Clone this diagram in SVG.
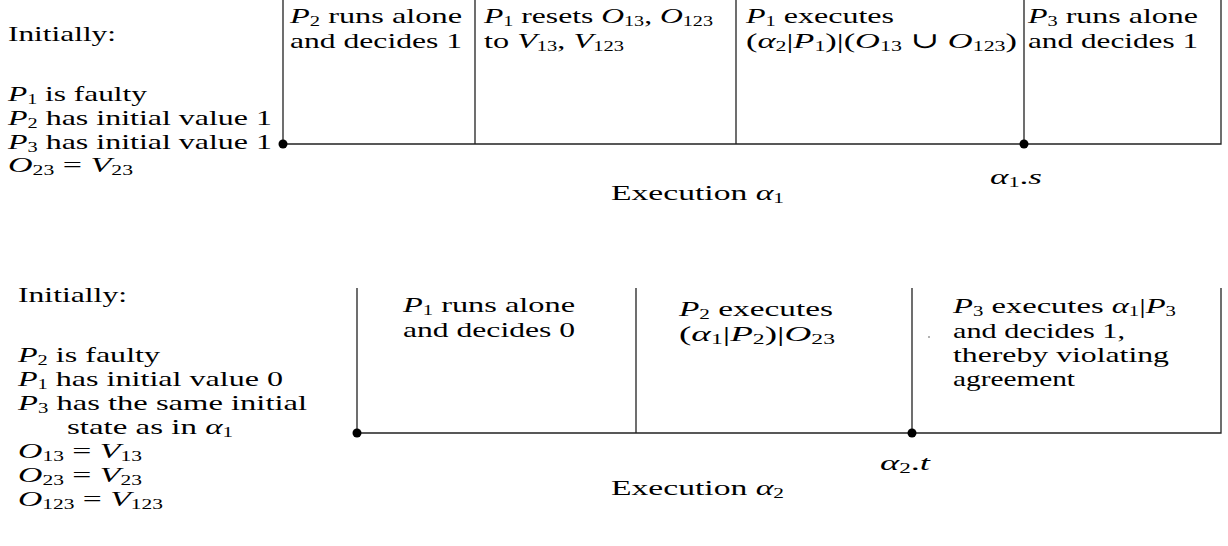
<svg xmlns="http://www.w3.org/2000/svg" width="1228" height="546" viewBox="0 0 1228 546">
<style>
text { font-family: "Liberation Serif", "DejaVu Serif", serif; font-size: 22px; fill: #000; }
.i { font-style: italic; }
.s { font-size: 14px; }
.ln { stroke: #222; stroke-width: 1.3; fill: none; }
.dot { fill: #000; }
</style>
<rect width="1228" height="546" fill="#fff"/>
<g id="connectors">
  <path class="ln" d="M283,0 V144 H1221 V0"/>
  <path class="ln" d="M475,0 V144 M736,0 V144 M1024,0 V144"/>
  <circle class="dot" cx="283" cy="144" r="4.5"/>
  <circle class="dot" cx="1024" cy="144" r="4.5"/>
  <path class="ln" d="M357,288 V433 H1221 V288"/>
  <path class="ln" d="M636,288 V433 M912,288 V433"/>
  <circle class="dot" cx="357" cy="433" r="4.5"/>
  <circle class="dot" cx="912" cy="433" r="4.5"/>
  <circle fill="#999" cx="929" cy="337" r="1"/>
</g>
<g id="init1">
  <text x="8" y="41" textLength="108" lengthAdjust="spacingAndGlyphs">Initially:</text>
  <text x="8" y="101" textLength="139" lengthAdjust="spacingAndGlyphs"><tspan class="i">P</tspan><tspan class="s" dy="3">1</tspan><tspan dy="-3"> is faulty</tspan></text>
  <text x="8" y="125" textLength="264" lengthAdjust="spacingAndGlyphs"><tspan class="i">P</tspan><tspan class="s" dy="3">2</tspan><tspan dy="-3"> has initial value 1</tspan></text>
  <text x="8" y="149" textLength="264" lengthAdjust="spacingAndGlyphs"><tspan class="i">P</tspan><tspan class="s" dy="3">3</tspan><tspan dy="-3"> has initial value 1</tspan></text>
  <text x="8" y="172" textLength="125" lengthAdjust="spacingAndGlyphs"><tspan class="i">O</tspan><tspan class="s" dy="3">23</tspan><tspan dy="-3"> = </tspan><tspan class="i">V</tspan><tspan class="s" dy="3">23</tspan></text>
</g>
<g id="a1-seg1">
  <text x="290" y="23" textLength="172" lengthAdjust="spacingAndGlyphs"><tspan class="i">P</tspan><tspan class="s" dy="3">2</tspan><tspan dy="-3"> runs alone</tspan></text>
  <text x="290" y="48" textLength="172" lengthAdjust="spacingAndGlyphs">and decides 1</text>
</g>
<g id="a1-seg2">
  <text x="484" y="23" textLength="229" lengthAdjust="spacingAndGlyphs"><tspan class="i">P</tspan><tspan class="s" dy="3">1</tspan><tspan dy="-3"> resets </tspan><tspan class="i">O</tspan><tspan class="s" dy="3">13</tspan><tspan dy="-3">, </tspan><tspan class="i">O</tspan><tspan class="s" dy="3">123</tspan></text>
  <text x="484" y="48" textLength="140" lengthAdjust="spacingAndGlyphs">to <tspan class="i">V</tspan><tspan class="s" dy="3">13</tspan><tspan dy="-3">, </tspan><tspan class="i">V</tspan><tspan class="s" dy="3">123</tspan></text>
</g>
<g id="a1-seg3">
  <text x="746" y="23" textLength="148" lengthAdjust="spacingAndGlyphs"><tspan class="i">P</tspan><tspan class="s" dy="3">1</tspan><tspan dy="-3"> executes</tspan></text>
  <text x="746" y="48" textLength="271" lengthAdjust="spacingAndGlyphs">(<tspan class="i">α</tspan><tspan class="s" dy="3">2</tspan><tspan dy="-3">|</tspan><tspan class="i">P</tspan><tspan class="s" dy="3">1</tspan><tspan dy="-3">)|(</tspan><tspan class="i">O</tspan><tspan class="s" dy="3">13</tspan><tspan dy="-3"> ∪ </tspan><tspan class="i">O</tspan><tspan class="s" dy="3">123</tspan><tspan dy="-3">)</tspan></text>
</g>
<g id="a1-seg4">
  <text x="1028" y="23" textLength="170" lengthAdjust="spacingAndGlyphs"><tspan class="i">P</tspan><tspan class="s" dy="3">3</tspan><tspan dy="-3"> runs alone</tspan></text>
  <text x="1028" y="48" textLength="170" lengthAdjust="spacingAndGlyphs">and decides 1</text>
</g>
<g id="a1-labels">
  <text x="990" y="184" textLength="52" lengthAdjust="spacingAndGlyphs"><tspan class="i">α</tspan><tspan class="s" dy="3">1</tspan><tspan dy="-3">.</tspan><tspan class="i">s</tspan></text>
  <text x="611" y="200" textLength="173" lengthAdjust="spacingAndGlyphs">Execution <tspan class="i">α</tspan><tspan class="s" dy="3">1</tspan></text>
</g>
<g id="init2">
  <text x="18" y="302" textLength="109" lengthAdjust="spacingAndGlyphs">Initially:</text>
  <text x="18" y="362" textLength="142" lengthAdjust="spacingAndGlyphs"><tspan class="i">P</tspan><tspan class="s" dy="3">2</tspan><tspan dy="-3"> is faulty</tspan></text>
  <text x="18" y="386" textLength="265" lengthAdjust="spacingAndGlyphs"><tspan class="i">P</tspan><tspan class="s" dy="3">1</tspan><tspan dy="-3"> has initial value 0</tspan></text>
  <text x="18" y="410" textLength="289" lengthAdjust="spacingAndGlyphs"><tspan class="i">P</tspan><tspan class="s" dy="3">3</tspan><tspan dy="-3"> has the same initial</tspan></text>
  <text x="67" y="434" textLength="166" lengthAdjust="spacingAndGlyphs">state as in <tspan class="i">α</tspan><tspan class="s" dy="3">1</tspan></text>
  <text x="18" y="458" textLength="124" lengthAdjust="spacingAndGlyphs"><tspan class="i">O</tspan><tspan class="s" dy="3">13</tspan><tspan dy="-3"> = </tspan><tspan class="i">V</tspan><tspan class="s" dy="3">13</tspan></text>
  <text x="18" y="482" textLength="124" lengthAdjust="spacingAndGlyphs"><tspan class="i">O</tspan><tspan class="s" dy="3">23</tspan><tspan dy="-3"> = </tspan><tspan class="i">V</tspan><tspan class="s" dy="3">23</tspan></text>
  <text x="18" y="506" textLength="145" lengthAdjust="spacingAndGlyphs"><tspan class="i">O</tspan><tspan class="s" dy="3">123</tspan><tspan dy="-3"> = </tspan><tspan class="i">V</tspan><tspan class="s" dy="3">123</tspan></text>
</g>
<g id="a2-seg1">
  <text x="403" y="312" textLength="172" lengthAdjust="spacingAndGlyphs"><tspan class="i">P</tspan><tspan class="s" dy="3">1</tspan><tspan dy="-3"> runs alone</tspan></text>
  <text x="403" y="337" textLength="172" lengthAdjust="spacingAndGlyphs">and decides 0</text>
</g>
<g id="a2-seg2">
  <text x="679" y="316" textLength="154" lengthAdjust="spacingAndGlyphs"><tspan class="i">P</tspan><tspan class="s" dy="3">2</tspan><tspan dy="-3"> executes</tspan></text>
  <text x="679" y="341" textLength="156" lengthAdjust="spacingAndGlyphs">(<tspan class="i">α</tspan><tspan class="s" dy="3">1</tspan><tspan dy="-3">|</tspan><tspan class="i">P</tspan><tspan class="s" dy="3">2</tspan><tspan dy="-3">)|</tspan><tspan class="i">O</tspan><tspan class="s" dy="3">23</tspan></text>
</g>
<g id="a2-seg3">
  <text x="953" y="313" textLength="223" lengthAdjust="spacingAndGlyphs"><tspan class="i">P</tspan><tspan class="s" dy="3">3</tspan><tspan dy="-3"> executes </tspan><tspan class="i">α</tspan><tspan class="s" dy="3">1</tspan><tspan dy="-3">|</tspan><tspan class="i">P</tspan><tspan class="s" dy="3">3</tspan></text>
  <text x="953" y="338" textLength="172" lengthAdjust="spacingAndGlyphs">and decides 1,</text>
  <text x="953" y="362" textLength="216" lengthAdjust="spacingAndGlyphs">thereby violating</text>
  <text x="953" y="386" textLength="122" lengthAdjust="spacingAndGlyphs">agreement</text>
</g>
<g id="a2-labels">
  <text x="880" y="470" textLength="50" lengthAdjust="spacingAndGlyphs"><tspan class="i">α</tspan><tspan class="s" dy="3">2</tspan><tspan dy="-3">.</tspan><tspan class="i">t</tspan></text>
  <text x="611" y="495" textLength="173" lengthAdjust="spacingAndGlyphs">Execution <tspan class="i">α</tspan><tspan class="s" dy="3">2</tspan></text>
</g>
</svg>
